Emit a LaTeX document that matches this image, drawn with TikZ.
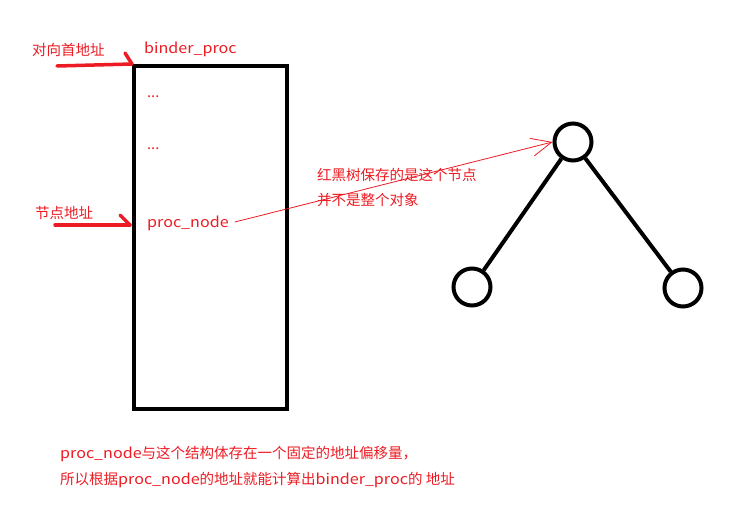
\documentclass[tikz,border=0pt]{standalone}
\usepackage{fontspec}
\newfontfamily\cjk{Noto Sans CJK SC}
\newfontfamily\latf[FakeStretch=1.11]{Noto Sans CJK SC}
\newcommand\lt[1]{{\latf #1}}
\usetikzlibrary{arrows.meta}
\definecolor{pred}{HTML}{ED1C24}
\tikzset{
  lbl/.style={text=pred, font=\cjk\fontsize{14.5}{16}\selectfont, inner sep=0pt, anchor=west},
  thickred/.style={draw=pred, line width=3.5pt, line cap=round},
  thinred/.style={draw=pred, line width=0.8pt, -{Straight Barb[length=20pt,width=18pt,line width=0.8pt]}},
  tnode/.style={draw, circle, line width=4pt, minimum size=37pt, inner sep=0pt},
  tedge/.style={draw, line width=4pt},
}
\begin{document}
\begin{tikzpicture}[x=1pt,y=-1pt]
\useasboundingbox (0,0) rectangle (732,505);
\fill[white] (0,0) rectangle (732,505);
% structure box
\node[draw, line width=4pt, minimum width=153pt, minimum height=343pt, inner sep=0pt] (box) at (210.5,237.5) {};
% labels
\node[lbl] (head) at (32,50) {对向首地址};
\node[lbl] (bp) at (144,49) {\lt{binder\_proc}};
\node[lbl, anchor=base west] (d1) at (147,98) {...};
\node[lbl, anchor=base west] (d2) at (147,150) {...};
\node[lbl] (pn) at (147,223) {\lt{proc\_node}};
\node[lbl] (na) at (35,213) {节点地址};
\node[lbl] (t1) at (317,175) {红黑树保存的是这个节点};
\node[lbl] (t2) at (317,200) {并不是整个对象};
\node[lbl] (b1) at (60,454) {\lt{proc\_node}与这个结构体存在一个固定的地址偏移量，};
\node[lbl] (b2) at (60,480) {所以根据\lt{proc\_node}的地址就能计算出\lt{binder\_proc}的 地址};
% thick red arrows
\coordinate (a1s) at (57,66);
\coordinate (a1b) at (125,53);
\coordinate (a2s) at (55,225);
\coordinate (a2t) at (130,225);
\coordinate (a2b) at (120,215);
\draw[thickred] (a1s) -- (box.north west);
\draw[thickred] (a1b) -- (box.north west);
\draw[thickred] (a2s) -- (a2t);
\draw[thickred] (a2b) -- (a2t);
% tree
\node[tnode] (top) at (573,142) {};
\node[tnode] (left) at (472,287) {};
\node[tnode] (right) at (683,288) {};
\draw[tedge] (top) -- (left);
\draw[tedge] (top) -- (right);
% thin arrow
\draw[thinred] (pn.east) ++(6,-1) coordinate (ps) -- (top.west);
\end{tikzpicture}
\end{document}
